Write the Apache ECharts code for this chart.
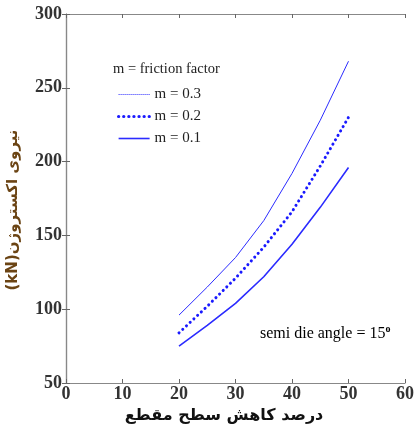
<!DOCTYPE html>
<html>
<head>
<meta charset="utf-8">
<script src="https://cdn.jsdelivr.net/npm/echarts@6/dist/echarts.min.js"></script>
<style>
  html, body { margin: 0; padding: 0; background: #fff; }
  #chart { width: 417px; height: 432px; }
</style>
</head>
<body>
<div id="chart"></div>
<script>
// Area reduction (%) on the x axis
const reduction = [20, 25, 30, 35, 40, 45, 50];
// Extrusion force (kN) for each friction factor
const force_m03 = [96, 115, 135, 160, 192, 228, 268];
const force_m02 = [84, 102, 121, 142, 166, 197, 230];
const force_m01 = [75, 89, 104, 122, 144, 169, 196];
const seriesNames = ['m = 0.3', 'm = 0.2', 'm = 0.1'];
const xTicks = [0, 10, 20, 30, 40, 50, 60];
const yTicks = [50, 100, 150, 200, 250, 300];

const pairs = arr => reduction.map((x, i) => [x, arr[i]]);
const serif = 'Liberation Serif';
const blue = '#2b2bff';

const chart = echarts.init(document.getElementById('chart'));
const tickFmt = v => String(v);

const baseAxisX = {
  type: 'value', min: xTicks[0], max: xTicks[xTicks.length - 1], interval: 10,
  axisLine: { show: true, lineStyle: { color: '#888', width: 1.2 } },
  axisTick: { show: true, inside: true, length: 4, lineStyle: { color: '#666' } },
  splitLine: { show: false }
};
const baseAxisY = {
  type: 'value', min: yTicks[0], max: yTicks[yTicks.length - 1], interval: 50,
  axisLine: { show: true, lineStyle: { color: '#888', width: 1.2 } },
  axisTick: { show: true, inside: true, length: 4, lineStyle: { color: '#666' } },
  splitLine: { show: false }
};

chart.setOption({
  animation: false,
  grid: { left: 66, right: 7, top: 14, bottom: 49, containLabel: false },
  xAxis: [
    Object.assign({}, baseAxisX, {
      position: 'bottom',
      axisLabel: { show: true, formatter: tickFmt, color: '#333', fontFamily: serif,
                   fontSize: 18, fontWeight: 'bold', margin: 2 }
    }),
    Object.assign({}, baseAxisX, { position: 'top', axisLabel: { show: false } })
  ],
  yAxis: [
    Object.assign({}, baseAxisY, {
      position: 'left',
      axisLabel: { show: true, formatter: tickFmt, color: '#333', fontFamily: serif,
                   fontSize: 18, fontWeight: 'bold', margin: 4 }
    }),
    Object.assign({}, baseAxisY, { position: 'right', axisLabel: { show: false } })
  ],
  legend: {
    orient: 'vertical', left: 112, top: 82, itemGap: 7,
    itemWidth: 31, itemHeight: 14,
    itemStyle: { opacity: 0 },
    textStyle: { fontFamily: serif, fontSize: 15, color: '#222' },
    data: [
      { name: seriesNames[0], itemStyle: { opacity: 0 }, lineStyle: { type: [1, 1], width: 1 } },
      { name: seriesNames[1], itemStyle: { opacity: 0 }, lineStyle: { type: [0.1, 5], width: 3.2, cap: 'round' } },
      { name: seriesNames[2], itemStyle: { opacity: 0 }, lineStyle: { type: 'solid', width: 1.6 } }
    ]
  },
  graphic: [
    { type: 'text', left: 113, top: 62,
      style: { text: 'm = friction factor', fontFamily: serif, fontSize: 14.5, fill: '#222' } },
    { type: 'text', left: 260, top: 324,
      style: {
        text: '{a|semi die angle = 15}{s|o}',
        rich: {
          a: { fontFamily: serif, fontSize: 16, color: '#222' },
          s: { fontFamily: serif, fontSize: 10, fontWeight: 'bold', color: '#222',
               verticalAlign: 'top', padding: [0, 0, 9, 0] }
        }
      } },
    { type: 'text', x: 224, y: 416,
      style: { text: 'درصد کاهش سطح مقطع', fontFamily: 'DejaVu Sans', fontSize: 16,
               fontWeight: 'bold', fill: '#111', align: 'center', verticalAlign: 'middle' } },
    { type: 'text', x: 13, y: 210, rotation: Math.PI / 2,
      style: { text: '(kN)نیروی اکستروژن', fontFamily: 'DejaVu Sans', fontSize: 15,
               fontWeight: 'bold', fill: '#6b4414', align: 'center', verticalAlign: 'middle' } }
  ],
  series: [
    { name: seriesNames[0], type: 'line', data: pairs(force_m03), showSymbol: false,
      symbol: 'none', lineStyle: { color: blue, width: 1 }, itemStyle: { color: blue } },
    { name: seriesNames[1], type: 'line', data: pairs(force_m02), showSymbol: false,
      symbol: 'none', lineStyle: { color: '#1a1aff', width: 3, type: [0.1, 5], cap: 'round' },
      itemStyle: { color: '#1a1aff' } },
    { name: seriesNames[2], type: 'line', data: pairs(force_m01), showSymbol: false,
      symbol: 'none', lineStyle: { color: blue, width: 1.6 }, itemStyle: { color: blue } }
  ]
});
</script>
</body>
</html>
